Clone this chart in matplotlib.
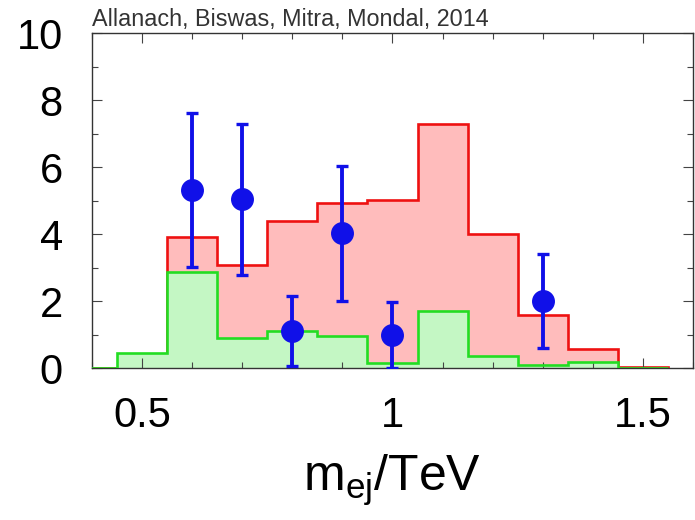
import numpy as np
import matplotlib.pyplot as plt

plt.rcParams['font.family'] = ['Liberation Sans', 'DejaVu Sans']
plt.rcParams['mathtext.fontset'] = 'custom'
plt.rcParams['mathtext.rm'] = 'Liberation Sans'
plt.rcParams['mathtext.it'] = 'Liberation Sans'

# bin edges of the m_ej histograms (TeV)
bin_edges = [0.35, 0.45, 0.55, 0.65, 0.75, 0.85, 0.95, 1.05, 1.15, 1.25, 1.35, 1.45, 1.55]
# signal + background (red) and background only (green)
red_counts = [0, 0, 3.90, 3.07, 4.40, 4.92, 5.02, 7.28, 4.00, 1.58, 0.56, 0.03]
green_counts = [0, 0.45, 2.87, 0.89, 1.09, 0.97, 0.15, 1.69, 0.37, 0.08, 0.17, 0]

# data points with errors
data_x = [0.6, 0.7, 0.8, 0.9, 1.0, 1.3]
data_y = [5.31, 5.04, 1.10, 4.02, 0.99, 2.00]
data_err = [2.30, 2.25, 1.05, 2.02, 0.99, 1.41]

fig = plt.figure(figsize=(6.95, 5.2), dpi=100)
ax = fig.add_axes([0.1324, 0.2923, 0.8646, 0.6442])

ax.stairs(red_counts, bin_edges, fill=True, color='#ffbcbc', lw=0)
ax.stairs(red_counts, bin_edges, baseline=0, color='#ee1111', lw=1.9)
ax.stairs(green_counts, bin_edges, fill=True, color='#c4f7c4', lw=0)
ax.stairs(green_counts, bin_edges, baseline=0, color='#22dd22', lw=1.9, zorder=3)

ax.errorbar(data_x, data_y, yerr=data_err, fmt='o', color='#1010e8', ms=15.5,
            elinewidth=2.8, capsize=4.2, capthick=2.4, zorder=5)

ax.set_xlim(0.4, 1.6)
ax.set_ylim(0, 10)
ax.set_xticks([0.5, 1.0, 1.5])
ax.set_xticklabels(['0.5', '1', '1.5'])
ax.set_xticks(np.arange(0.4, 1.61, 0.1), minor=True)
ax.set_yticks([0, 2, 4, 6, 8, 10])
ax.set_yticks(np.arange(0, 10.1, 1), minor=True)

ax.tick_params(which='both', direction='in', top=True, right=True, color='#444444')
ax.tick_params(which='major', length=7, width=0.8, labelsize=30)
ax.tick_params(which='minor', length=4, width=0.8)
ax.tick_params(axis='x', which='major', pad=20)
ax.tick_params(axis='y', which='major', pad=21)
for sp in ax.spines.values():
    sp.set_color('#333333')
    sp.set_linewidth(1.0)

ax.set_xlabel(r'm$_{\rm ej}$/TeV', fontsize=36, labelpad=12)
ax.text(0.0, 1.005, 'Allanach, Biswas, Mitra, Mondal, 2014', transform=ax.transAxes,
        fontsize=16.8, color='#333333', ha='left', va='bottom')

fig.savefig('out.png', dpi=100)
